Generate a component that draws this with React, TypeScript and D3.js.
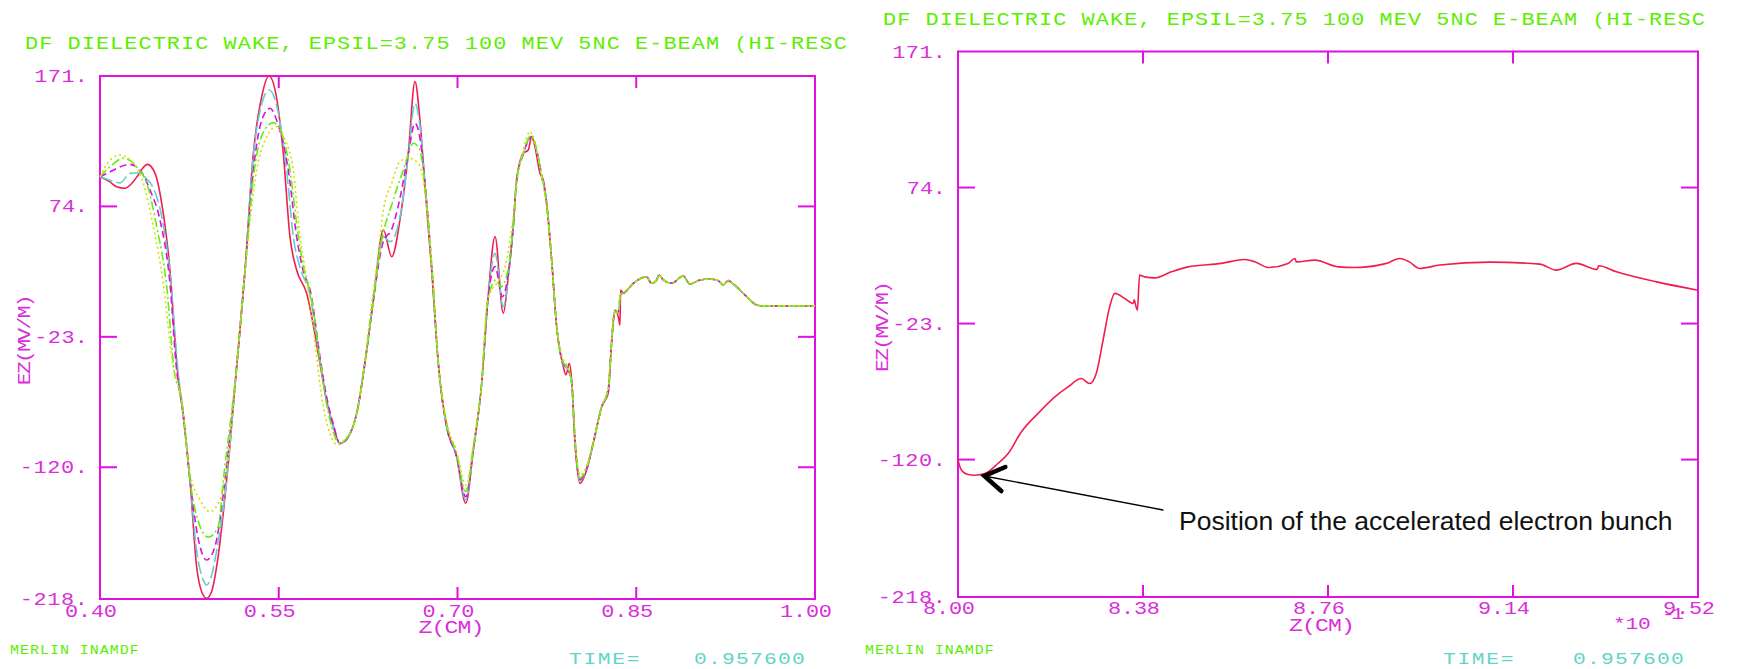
import React from "react";
import * as d3 from "d3";

type Pt = [number, number];

// ---------- axis values ----------
const ezTicks = [171, 74, -23, -120, -218];
const ezTickLabels = ["171.", "74.", "-23.", "-120.", "-218."];
const zTicksLeft = [0.4, 0.55, 0.7, 0.85, 1.0];
const zTickLabelsLeft = ["0.40", "0.55", "0.70", "0.85", "1.00"];
const zTicksRight = [8.0, 8.38, 8.76, 9.14, 9.52];
const zTickLabelsRight = ["8.00", "8.38", "8.76", "9.14", "9.52"];

// ---------- left panel: EZ (MV/M) vs Z (CM), five wake curves ----------
const redWake: Pt[] = [
  [0.4, 96], [0.408, 92.4], [0.414, 88.6], [0.421, 87.5], [0.426, 90.5], [0.431, 96], [0.4355, 102],
  [0.4397, 105.3], [0.4462, 98.6], [0.4518, 76.3], [0.4587, 26.7], [0.4649, -47.7], [0.4699, -82.4],
  [0.4755, -129.5], [0.4811, -194], [0.4855, -213], [0.4895, -217.5], [0.4935, -213], [0.4979, -194],
  [0.5063, -129.5], [0.5147, -45], [0.5217, 26.7], [0.5287, 113.5], [0.5357, 155.6], [0.5418, 171],
  [0.548, 155.6], [0.5538, 113.5], [0.5594, 51.5], [0.565, 26.7], [0.5734, 9.4], [0.5846, -42.7],
  [0.59, -70], [0.5958, -89.8], [0.6014, -102.2], [0.6084, -97.3], [0.6154, -79.9], [0.6238, -32.8],
  [0.6294, 4.4], [0.6378, 56.5], [0.6448, 36.6], [0.6517, 63.9], [0.6587, 113.5], [0.6643, 166.8],
  [0.6685, 138.3], [0.6727, 88.7], [0.6783, 26.7], [0.6839, -42.7], [0.6909, -89.8], [0.6993, -112.2],
  [0.7069, -146.8], [0.7133, -107.2], [0.7203, -57.6], [0.7255, 4.4], [0.7315, 51.5], [0.7384, -5.5],
  [0.7426, 21.7], [0.7468, 59], [0.7496, 93.6], [0.7552, 113.5], [0.7594, 116], [0.7622, 125.9],
  [0.765, 118.4], [0.7692, 98.6], [0.772, 93.6], [0.7748, 76.3], [0.779, 34.1], [0.7832, -15.5],
  [0.7888, -45.2], [0.791, -51.4], [0.7938, -42.7], [0.7958, -55.1], [0.7986, -102.2], [0.8028, -132],
  [0.8084, -122], [0.8139, -102.2], [0.821, -75], [0.8265, -65], [0.8293, -27.8], [0.8321, -3],
  [0.8349, -8], [0.8363, -14.2], [0.8369, 11.8],
];

const cyanWake: Pt[] = [
  [0.4, 96], [0.408, 93.5], [0.4168, 91.5], [0.4252, 98.6], [0.4336, 99], [0.4385, 95], [0.4434, 89.9],
  [0.4518, 66.4], [0.4587, 24], [0.4654, -47.7], [0.4699, -82], [0.4755, -129.5], [0.4811, -182],
  [0.4855, -201], [0.4895, -207.6], [0.4935, -201], [0.4979, -182], [0.5063, -129.5], [0.5147, -45],
  [0.5217, 26.7], [0.5287, 112], [0.5357, 150], [0.5418, 160.6], [0.548, 150], [0.5566, 101],
  [0.5622, 51.5], [0.568, 28], [0.576, 9], [0.5846, -41], [0.59, -69], [0.5958, -89], [0.6014, -102.5],
  [0.6084, -97.3], [0.6154, -80], [0.6238, -33], [0.6294, 4.4], [0.6378, 51.5], [0.6434, 47.8],
  [0.6517, 66], [0.6587, 112], [0.6643, 150.7], [0.669, 130], [0.673, 88], [0.6786, 26.7],
  [0.6839, -42.7], [0.6909, -89.8], [0.6993, -112.2], [0.7069, -144.4], [0.7133, -107.2],
  [0.7203, -57.6], [0.7255, 4.4], [0.7315, 39.1], [0.7384, -0.6], [0.7426, 22], [0.7468, 59],
  [0.7496, 93], [0.7552, 113], [0.7622, 126], [0.766, 117], [0.7706, 97], [0.7748, 76], [0.779, 34],
  [0.7832, -15], [0.7888, -44], [0.7924, -47], [0.7958, -57], [0.7986, -100], [0.8028, -130],
  [0.8084, -121], [0.8139, -102], [0.821, -75], [0.8265, -63], [0.8293, -27], [0.8321, -4],
  [0.8349, -6], [0.8369, 9],
];

const magentaWake: Pt[] = [
  [0.4, 96], [0.407, 99], [0.414, 102.3], [0.4252, 105.3], [0.4336, 101], [0.442, 86.2], [0.4503, 64],
  [0.4587, 16.8], [0.4643, -47.7], [0.4699, -80], [0.4755, -129.5], [0.4839, -179], [0.4895, -189],
  [0.4965, -179], [0.5049, -129.5], [0.5147, -45], [0.5217, 26], [0.5287, 101], [0.5357, 138],
  [0.5427, 147], [0.5494, 135], [0.558, 101], [0.565, 51.5], [0.57, 28], [0.577, 9], [0.5846, -38],
  [0.59, -67], [0.5958, -88], [0.6014, -102.5], [0.6084, -97.3], [0.6154, -80], [0.6238, -33],
  [0.6294, 4.4], [0.6378, 48], [0.6448, 57], [0.6517, 80], [0.6587, 113], [0.6643, 135.8], [0.669, 122],
  [0.6733, 86], [0.6786, 26.7], [0.6839, -42.7], [0.6909, -89.8], [0.6993, -112], [0.7069, -142],
  [0.7133, -106], [0.7203, -57], [0.7255, 4.4], [0.7315, 29.2], [0.7377, 6.8], [0.7426, 24],
  [0.7468, 60], [0.7496, 93], [0.7552, 113], [0.7622, 126], [0.766, 117], [0.7706, 97], [0.7748, 76],
  [0.779, 34], [0.7832, -15], [0.7888, -43], [0.7924, -47], [0.7958, -57], [0.7986, -100],
  [0.8028, -129], [0.8084, -121], [0.8139, -102], [0.821, -75], [0.8265, -62], [0.8293, -27],
  [0.8321, -4], [0.8349, -5], [0.8369, 9],
];

const greenWake: Pt[] = [
  [0.4, 96], [0.4084, 103.5], [0.4196, 109.8], [0.4308, 103.5], [0.4392, 91.2], [0.4476, 59],
  [0.456, 14.3], [0.4622, -47.7], [0.4686, -70], [0.4755, -129.5], [0.4839, -164], [0.4909, -172],
  [0.4993, -164], [0.5035, -129.5], [0.5147, -45], [0.5217, 26], [0.5295, 101], [0.5375, 130],
  [0.5455, 136.3], [0.5525, 128], [0.5594, 101], [0.5664, 51.5], [0.571, 28], [0.578, 3],
  [0.5846, -40], [0.59, -72], [0.5958, -94], [0.6005, -102], [0.6084, -97], [0.6154, -80],
  [0.6238, -33], [0.6294, 5], [0.6378, 55], [0.6434, 71.3], [0.6545, 101], [0.663, 121], [0.6685, 116],
  [0.6713, 101], [0.6786, 26.7], [0.6839, -42.7], [0.6909, -88], [0.6993, -110], [0.7069, -138.2],
  [0.7133, -105], [0.7203, -57], [0.7255, 4.4], [0.7325, 19.3], [0.7363, 14], [0.7426, 28],
  [0.7468, 61], [0.7496, 93], [0.7552, 114], [0.7622, 127], [0.766, 118], [0.7706, 97], [0.7748, 76],
  [0.779, 34], [0.7832, -15], [0.7888, -42], [0.7924, -46], [0.7958, -57], [0.7986, -99],
  [0.8028, -128], [0.8084, -120], [0.8139, -102], [0.821, -75], [0.8265, -62], [0.8293, -27],
  [0.8321, -4], [0.8349, -5], [0.8369, 9],
];

const yellowWake: Pt[] = [
  [0.4, 96], [0.4084, 108.5], [0.4168, 112.2], [0.428, 106.1], [0.4363, 91.2], [0.4447, 59],
  [0.4531, 16.8], [0.4605, -40], [0.4686, -72], [0.4755, -124], [0.4839, -144.4], [0.4923, -153],
  [0.5007, -144], [0.5049, -129.5], [0.5105, -88], [0.5147, -45], [0.5217, 26], [0.5315, 101],
  [0.54, 126], [0.5483, 133.3], [0.555, 124], [0.5622, 101], [0.5678, 51.5], [0.572, 28], [0.578, -10],
  [0.5874, -75], [0.593, -95], [0.5986, -103], [0.6056, -99], [0.6154, -80], [0.6238, -30],
  [0.6266, -8], [0.6336, 40], [0.6378, 71.3], [0.6448, 91.2], [0.6517, 107.3], [0.6587, 109.8],
  [0.6671, 106], [0.6713, 93.6], [0.6755, 62], [0.6786, 28], [0.6839, -42.7], [0.6909, -86],
  [0.6993, -108], [0.7069, -133.2], [0.7133, -103], [0.7203, -56], [0.7245, 0], [0.7273, 9.4],
  [0.7329, 16.8], [0.7399, 29.2], [0.7468, 66.4], [0.751, 98], [0.7552, 116], [0.7608, 129.6],
  [0.765, 120], [0.7706, 96], [0.7748, 74], [0.779, 33], [0.7832, -15], [0.7888, -40], [0.7924, -45],
  [0.7958, -58], [0.7986, -97], [0.8028, -126], [0.8084, -119], [0.8139, -102], [0.821, -75],
  [0.8265, -60], [0.8293, -27], [0.8321, -4], [0.8349, -5], [0.8369, 9],
];

// the five curves coincide behind the bunch
const wakeTail: Pt[] = [
  [0.8391, 9.4], [0.8475, 16.8], [0.8587, 21.7], [0.8629, 16.8], [0.8671, 19.3], [0.8693, 23],
  [0.8727, 19.3], [0.8797, 16.8], [0.8894, 22.2], [0.8951, 16.3], [0.9035, 19.3], [0.9119, 20],
  [0.9188, 18.8], [0.923, 15.6], [0.9272, 18.8], [0.9314, 16.3], [0.9427, 6.8], [0.951, 0.7],
  [0.9566, 0], [1.0, 0],
];

// ---------- right panel: Z in units of 10^-1 CM ----------
const bunchWake: Pt[] = [
  [8.0, -120.5], [8.007, -127.6], [8.0205, -130.7], [8.034, -131.2], [8.055, -130], [8.082, -122.8],
  [8.103, -115.7], [8.13, -100.3], [8.164, -87.2], [8.199, -75.3], [8.226, -68.2], [8.2535, -62.2],
  [8.2705, -65.8], [8.284, -58.6], [8.298, -34.8], [8.3115, -11.1], [8.322, -1.5], [8.342, -5.1],
  [8.352, -7.5], [8.3595, -8.7], [8.362, -6], [8.365, -10], [8.3685, -13.4], [8.373, 11.5],
  [8.383, 10.3], [8.404, 9.6], [8.438, 13.9], [8.4725, 17.4], [8.541, 19.9], [8.589, 22.7],
  [8.61, 21], [8.637, 17], [8.678, 19.9], [8.692, 23.4], [8.695, 21], [8.733, 22.2], [8.781, 17.4],
  [8.815, 17], [8.839, 17.4], [8.88, 19.9], [8.907, 23.4], [8.927, 21], [8.948, 16.3], [8.9895, 18.7],
  [9.092, 20.8], [9.195, 19.4], [9.229, 15.1], [9.27, 19.9], [9.313, 15.6], [9.316, 18.2],
  [9.3525, 13.9], [9.435, 6.7], [9.52, 0.8],
];
const bunchPosition: Pt = [8.05, -131];

const titleText = "DF DIELECTRIC WAKE, EPSIL=3.75  100 MEV 5NC E-BEAM (HI-RESC";
const timeValue = "0.957600";

// ---------- styling ----------
const W = 1747;
const H = 669;
const FONT = "'Liberation Mono', 'DejaVu Sans Mono', monospace";
const MAGENTA = "#e010e0";
const LABEL = "#d92fd9";
const GREEN = "#5cee00";
const TEAL = "#5fd4c8";

const leftBox = { x0: 100, x1: 815, y0: 76, y1: 599 };
const rightBox = { x0: 958, x1: 1698, y0: 51.5, y1: 597 };

type Box = typeof leftBox;

// fixed-pitch plotter lettering: every glyph sits in a cell of equal width,
// glyphs drawn a little wider than the font's own proportions
function Mono(props: {
  x: number; y: number; text: string; size?: number; cell?: number; fill: string;
  anchor?: "start" | "middle" | "end"; rotate?: number; stretch?: number;
}) {
  const { x, y, text, size = 17.5, cell = 14, fill, anchor = "start", rotate = 0, stretch = 1.25 } = props;
  const len = (text.length - 1) * cell + cell * 0.7;
  return (
    <text x={0} y={0} fontSize={size} fontFamily={FONT} fill={fill} textAnchor={anchor}
      textLength={len / stretch} lengthAdjust="spacing"
      transform={`translate(${x},${y}) rotate(${rotate}) scale(${stretch},1)`}>
      {text}
    </text>
  );
}

function Frame(props: {
  box: Box; x: d3.ScaleLinear<number, number>; y: d3.ScaleLinear<number, number>;
  xTicks: number[]; xLabels: string[]; xLabelDy: number;
}) {
  const { box, x, y, xTicks, xLabels, xLabelDy } = props;
  const inner = (arr: number[]) => arr.slice(1, -1);
  return (
    <g>
      <rect x={box.x0} y={box.y0} width={box.x1 - box.x0} height={box.y1 - box.y0}
        fill="none" stroke={MAGENTA} strokeWidth={2} />
      {inner(ezTicks).map((t) => (
        <g key={"y" + t} stroke={MAGENTA} strokeWidth={2}>
          <line x1={box.x0} x2={box.x0 + 17} y1={y(t)} y2={y(t)} />
          <line x1={box.x1} x2={box.x1 - 17} y1={y(t)} y2={y(t)} />
        </g>
      ))}
      {inner(xTicks).map((t) => (
        <g key={"x" + t} stroke={MAGENTA} strokeWidth={2}>
          <line x1={x(t)} x2={x(t)} y1={box.y0} y2={box.y0 + 12} />
          <line x1={x(t)} x2={x(t)} y1={box.y1} y2={box.y1 - 12} />
        </g>
      ))}
      {ezTickLabels.map((label, i) => (
        <Mono key={"yl" + label} x={box.x0 - 12} y={y(ezTicks[i]) + 6} text={label} fill={LABEL}
          anchor="end" cell={14.5} />
      ))}
      {xLabels.map((label, i) => (
        <Mono key={"xl" + label} x={x(xTicks[i]) - 9} y={box.y1 + xLabelDy} text={label} fill={LABEL}
          anchor="middle" cell={14} />
      ))}
      <Mono x={(box.x0 + box.x1) / 2 - 6} y={box.y1 + 34} text="Z(CM)" fill={LABEL} anchor="middle"
        size={18.5} cell={14} />
      <Mono x={box.x0 - 70} y={y(-23) + 3} text="EZ(MV/M)" fill={LABEL} anchor="middle" size={18.5}
        cell={11.8} rotate={-90} stretch={1.15} />
      <Mono x={box.x0 - 75} y={box.y0 - 27} text={titleText} fill={GREEN} cell={14} />
    </g>
  );
}

export default function App() {
  const xL = d3.scaleLinear().domain([0.4, 1.0]).range([leftBox.x0, leftBox.x1]);
  const yL = d3.scaleLinear().domain([-218, 171]).range([leftBox.y1, leftBox.y0]);
  const xR = d3.scaleLinear().domain([8.0, 9.52]).range([rightBox.x0, rightBox.x1]);
  const yR = d3.scaleLinear().domain([-218, 171]).range([rightBox.y1, rightBox.y0]);

  const lineL = d3.line<Pt>().x((d) => xL(d[0])).y((d) => yL(d[1])).curve(d3.curveMonotoneX);
  const lineR = d3.line<Pt>().x((d) => xR(d[0])).y((d) => yR(d[1])).curve(d3.curveMonotoneX);

  const leftSeries = [
    { key: "red", data: redWake, color: "#f21d4e", dash: undefined },
    { key: "cyan", data: cyanWake, color: "#62cfcf", dash: "13 4" },
    { key: "magenta", data: magentaWake, color: "#dc10dc", dash: "7 4" },
    { key: "green", data: greenWake, color: "#66ee11", dash: "9 3 2 3" },
    { key: "yellow", data: yellowWake, color: "#d2e000", dash: "2 3" },
  ];

  const [bx, by] = bunchPosition;
  const tipX = xR(bx) + 2;
  const tipY = yR(by) + 1;

  return (
    <svg width={W} height={H} viewBox={`0 0 ${W} ${H}`}
      style={{ position: "absolute", left: 0, top: 0, background: "#ffffff" }}>
      <rect x={0} y={0} width={W} height={H} fill="#ffffff" />

      {/* left panel */}
      <Frame box={leftBox} x={xL} y={yL} xTicks={zTicksLeft} xLabels={zTickLabelsLeft} xLabelDy={18} />
      <g fill="none" strokeWidth={1.6} strokeLinejoin="round">
        {leftSeries.map((s) => (
          <path key={s.key} d={lineL([...s.data, ...wakeTail]) ?? ""} stroke={s.color} strokeDasharray={s.dash} />
        ))}
      </g>

      {/* right panel */}
      <Frame box={rightBox} x={xR} y={yR} xTicks={zTicksRight} xLabels={zTickLabelsRight} xLabelDy={17} />
      <path d={lineR(bunchWake) ?? ""} fill="none" stroke="#f21d4e" strokeWidth={1.6} strokeLinejoin="round" />
      <Mono x={1613} y={629} text="*10" fill={LABEL} size={17} cell={14} />
      <Mono x={1662} y={619} text="-1" fill={LABEL} size={17} cell={13} />

      {/* annotation */}
      <g stroke="#000000" fill="none" strokeLinecap="round">
        <line x1={tipX} y1={tipY} x2={1163} y2={510} strokeWidth={1.3} />
        <polyline points={`${tipX + 21},${tipY - 9} ${tipX},${tipY} ${tipX + 17},${tipY + 15}`} strokeWidth={4.5} />
      </g>
      <text x={1179} y={530} fontSize={26.5} fontFamily="'Liberation Sans', Arial, sans-serif" fill="#111111">
        Position of the accelerated electron bunch
      </text>

      {/* footer */}
      <Mono x={10} y={654} text="MERLIN  INAMDF" fill={GREEN} size={12.5} cell={9.4} stretch={1.2} />
      <Mono x={865} y={654} text="MERLIN  INAMDF" fill={GREEN} size={12.5} cell={9.4} stretch={1.2} />
      <Mono x={569} y={664} text="TIME=" fill={TEAL} size={17} cell={15} />
      <Mono x={694} y={664} text={timeValue} fill={TEAL} size={17} cell={14.4} />
      <Mono x={1443} y={664} text="TIME=" fill={TEAL} size={17} cell={15} />
      <Mono x={1573} y={664} text={timeValue} fill={TEAL} size={17} cell={14.4} />
    </svg>
  );
}
